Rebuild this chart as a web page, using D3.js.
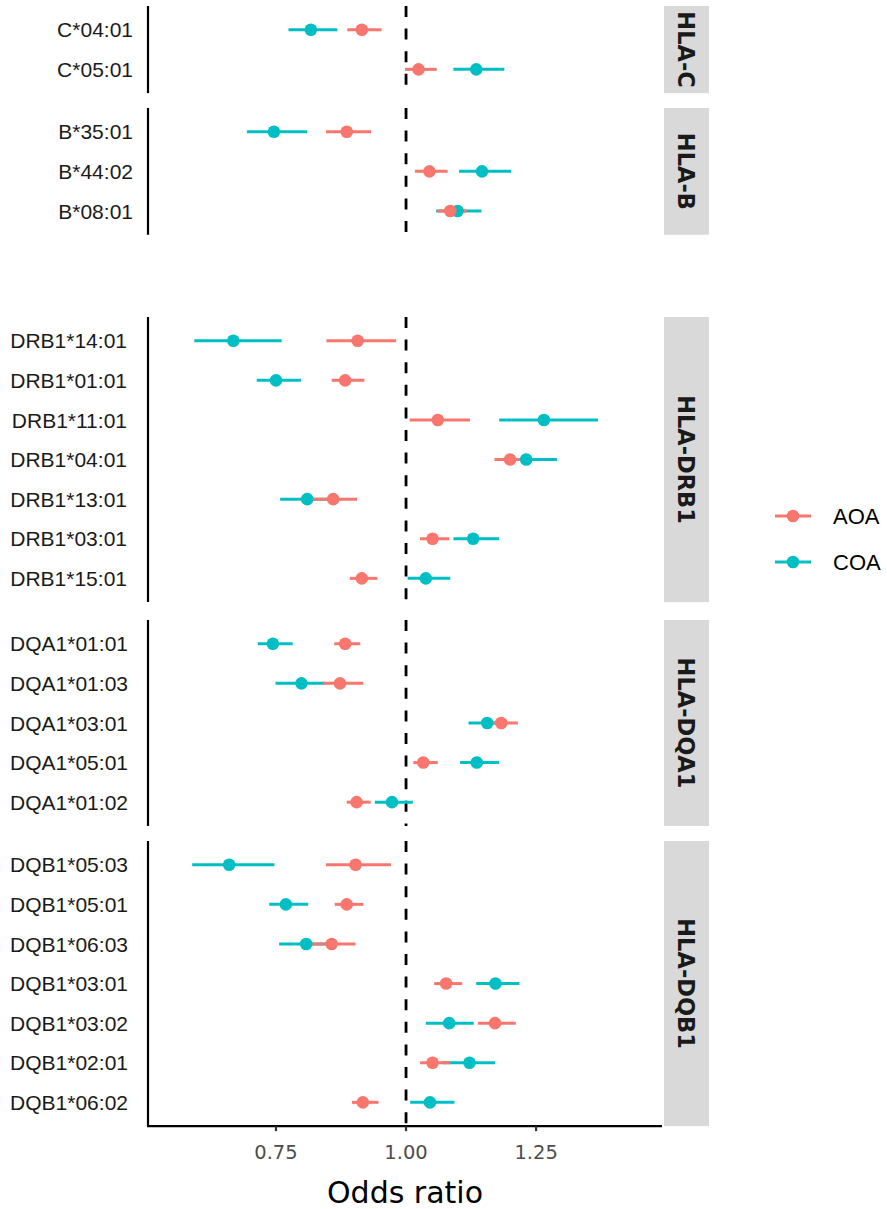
<!DOCTYPE html>
<html>
<head>
<meta charset="utf-8">
<script src="https://cdn.jsdelivr.net/npm/d3@7/dist/d3.min.js"></script>
<style>
  html, body { margin: 0; padding: 0; background: #ffffff; }
  svg { display: block; }
</style>
</head>
<body>
<svg id="chart" width="887" height="1209"></svg>
<script>
// HLA allele odds ratios, adult-onset (AOA) vs childhood-onset (COA)
const genes = ["HLA-C", "HLA-B", "HLA-DRB1", "HLA-DQA1", "HLA-DQB1"];

const alleles = [
  "C*04:01", "C*05:01",
  "B*35:01", "B*44:02", "B*08:01",
  "DRB1*14:01", "DRB1*01:01", "DRB1*11:01", "DRB1*04:01", "DRB1*13:01", "DRB1*03:01", "DRB1*15:01",
  "DQA1*01:01", "DQA1*01:03", "DQA1*03:01", "DQA1*05:01", "DQA1*01:02",
  "DQB1*05:03", "DQB1*05:01", "DQB1*06:03", "DQB1*03:01", "DQB1*03:02", "DQB1*02:01", "DQB1*06:02"
];
const alleleGene = [
  "HLA-C", "HLA-C",
  "HLA-B", "HLA-B", "HLA-B",
  "HLA-DRB1", "HLA-DRB1", "HLA-DRB1", "HLA-DRB1", "HLA-DRB1", "HLA-DRB1", "HLA-DRB1",
  "HLA-DQA1", "HLA-DQA1", "HLA-DQA1", "HLA-DQA1", "HLA-DQA1",
  "HLA-DQB1", "HLA-DQB1", "HLA-DQB1", "HLA-DQB1", "HLA-DQB1", "HLA-DQB1", "HLA-DQB1"
];

const aoaOR = [0.915, 1.024, 0.886, 1.045, 1.085, 0.907, 0.883, 1.061, 1.200, 0.860, 1.051, 0.915,
               0.883, 0.873, 1.183, 1.033, 0.905, 0.903, 0.886, 0.857, 1.077, 1.171, 1.051, 0.917];
const aoaLo = [0.887, 0.998, 0.846, 1.017, 1.061, 0.847, 0.857, 1.007, 1.170, 0.820, 1.027, 0.892,
               0.862, 0.840, 1.150, 1.014, 0.886, 0.846, 0.863, 0.819, 1.054, 1.138, 1.027, 0.896];
const aoaHi = [0.953, 1.059, 0.933, 1.080, 1.117, 0.981, 0.920, 1.123, 1.232, 0.906, 1.083, 0.945,
               0.912, 0.918, 1.215, 1.061, 0.932, 0.971, 0.918, 0.903, 1.108, 1.211, 1.085, 0.947];

const coaOR = [0.817, 1.135, 0.746, 1.146, 1.099, 0.668, 0.750, 1.265, 1.231, 0.810, 1.129, 1.038,
               0.744, 0.799, 1.156, 1.136, 0.973, 0.660, 0.769, 0.808, 1.172, 1.083, 1.122, 1.046];
const coaLo = [0.774, 1.091, 0.694, 1.102, 1.058, 0.593, 0.713, 1.179, 1.185, 0.758, 1.091, 1.003,
               0.715, 0.749, 1.120, 1.104, 0.940, 0.589, 0.737, 0.756, 1.135, 1.038, 1.070, 1.008];
const coaHi = [0.868, 1.189, 0.810, 1.202, 1.145, 0.761, 0.798, 1.369, 1.290, 0.850, 1.179, 1.085,
               0.782, 0.845, 1.195, 1.179, 1.013, 0.747, 0.812, 0.850, 1.218, 1.130, 1.171, 1.093];

const groups = ["COA", "AOA"];          // drawing order (AOA on top)
const legendGroups = ["AOA", "COA"];
const xTicks = [0.75, 1.00, 1.25];
const refOR = 1;

// ---- layout ----
const colors = { AOA: "#F8766D", COA: "#00BFC4" };
const xLeft = 148, xRight = 662;
const stripX = 664, stripW = 45;
const rowStep = 39.6;
const panelTops = { "HLA-C": 6, "HLA-B": 108, "HLA-DRB1": 317, "HLA-DQA1": 620, "HLA-DQB1": 841 };
const labelGap = { "HLA-C": 15, "HLA-B": 15, "HLA-DRB1": 21, "HLA-DQA1": 20, "HLA-DQB1": 20 };

const svg = d3.select("#chart");

const x = d3.scaleLinear().domain([0.504, 1.492]).range([xLeft, xRight]);

const rows = alleles.map((a, i) => ({
  allele: a, gene: alleleGene[i],
  AOA: { or: aoaOR[i], lo: aoaLo[i], hi: aoaHi[i] },
  COA: { or: coaOR[i], lo: coaLo[i], hi: coaHi[i] }
}));

let lastBottom = 0;
const yScales = {};
genes.forEach(g => {
  const cats = rows.filter(r => r.gene === g).map(r => r.allele);
  const top = panelTops[g];
  const h = (cats.length - 1 + 1.2) * rowStep;
  const y = d3.scalePoint().domain(cats).range([top, top + h]).padding(0.6);
  yScales[g] = { y, top, bottom: top + h };
  lastBottom = top + h;
});

genes.forEach(g => {
  const { y, top, bottom } = yScales[g];
  const panel = svg.append("g");
  const pr = rows.filter(r => r.gene === g);

  // reference line at OR = 1
  panel.append("line")
    .attr("x1", x(refOR)).attr("x2", x(refOR))
    .attr("y1", top).attr("y2", bottom)
    .attr("stroke", "#000").attr("stroke-width", 2.8)
    .attr("stroke-dasharray", "11,11.6");

  // y axis line and labels
  panel.append("line")
    .attr("x1", xLeft).attr("x2", xLeft)
    .attr("y1", top).attr("y2", bottom)
    .attr("stroke", "#000").attr("stroke-width", 2.2);

  panel.selectAll("text.ylab").data(pr).join("text")
    .attr("class", "ylab")
    .attr("x", xLeft - labelGap[g])
    .attr("y", d => y(d.allele))
    .attr("dy", "0.36em")
    .attr("text-anchor", "end")
    .attr("font-family", "'Liberation Sans', Arial, sans-serif")
    .attr("font-size", 21)
    .attr("fill", "#1a1a1a")
    .text(d => d.allele);

  // confidence intervals
  groups.forEach(s => {
    panel.selectAll("line.ci-" + s).data(pr).join("line")
      .attr("class", "ci-" + s)
      .attr("x1", d => x(d[s].lo)).attr("x2", d => x(d[s].hi))
      .attr("y1", d => y(d.allele)).attr("y2", d => y(d.allele))
      .attr("stroke", colors[s]).attr("stroke-width", 3);
  });
  // point estimates
  groups.forEach(s => {
    panel.selectAll("circle.pt-" + s).data(pr).join("circle")
      .attr("class", "pt-" + s)
      .attr("cx", d => x(d[s].or))
      .attr("cy", d => y(d.allele))
      .attr("r", 6.3)
      .attr("fill", colors[s]);
  });

  // facet strip
  panel.append("rect")
    .attr("x", stripX).attr("y", top)
    .attr("width", stripW).attr("height", bottom - top)
    .attr("fill", "#d9d9d9");
  const cx = stripX + stripW / 2, cy = (top + bottom) / 2;
  panel.append("text")
    .attr("transform", `translate(${cx},${cy}) rotate(90)`)
    .attr("text-anchor", "middle")
    .attr("dy", "0.36em")
    .attr("font-family", "'DejaVu Sans', Verdana, sans-serif")
    .attr("font-weight", "bold")
    .attr("font-size", 22.5)
    .attr("fill", "#1a1a1a")
    .text(g);
});

// x axis on the bottom panel
const xAxis = svg.append("g").attr("transform", `translate(0,${lastBottom})`);
xAxis.append("line")
  .attr("x1", xLeft - 1).attr("x2", xRight)
  .attr("y1", 0).attr("y2", 0)
  .attr("stroke", "#000").attr("stroke-width", 2.2);
xAxis.selectAll("line.tick").data(xTicks).join("line")
  .attr("class", "tick")
  .attr("x1", d => x(d)).attr("x2", d => x(d))
  .attr("y1", 0).attr("y2", 5)
  .attr("stroke", "#333").attr("stroke-width", 2.2);
xAxis.selectAll("text.tick").data(xTicks).join("text")
  .attr("class", "tick")
  .attr("x", d => x(d))
  .attr("y", 26)
  .attr("dy", "0.36em")
  .attr("text-anchor", "middle")
  .attr("font-family", "'DejaVu Sans', Verdana, sans-serif")
  .attr("font-size", 19.5)
  .attr("fill", "#4d4d4d")
  .text(d => d3.format(".2f")(d));

svg.append("text")
  .attr("x", (xLeft + xRight) / 2)
  .attr("y", lastBottom + 66)
  .attr("dy", "0.36em")
  .attr("text-anchor", "middle")
  .attr("font-family", "'DejaVu Sans', Verdana, sans-serif")
  .attr("font-size", 30)
  .attr("fill", "#000")
  .text("Odds ratio");

// legend
const legend = svg.append("g");
legendGroups.forEach((s, i) => {
  const ly = 516 + i * 46;
  legend.append("line")
    .attr("x1", 775).attr("x2", 811).attr("y1", ly).attr("y2", ly)
    .attr("stroke", colors[s]).attr("stroke-width", 3);
  legend.append("circle")
    .attr("cx", 793).attr("cy", ly).attr("r", 6.3)
    .attr("fill", colors[s]);
  legend.append("text")
    .attr("x", 833).attr("y", ly)
    .attr("dy", "0.36em")
    .attr("font-family", "'Liberation Sans', Arial, sans-serif")
    .attr("font-size", 22)
    .attr("fill", "#000")
    .text(s);
});
</script>
</body>
</html>
